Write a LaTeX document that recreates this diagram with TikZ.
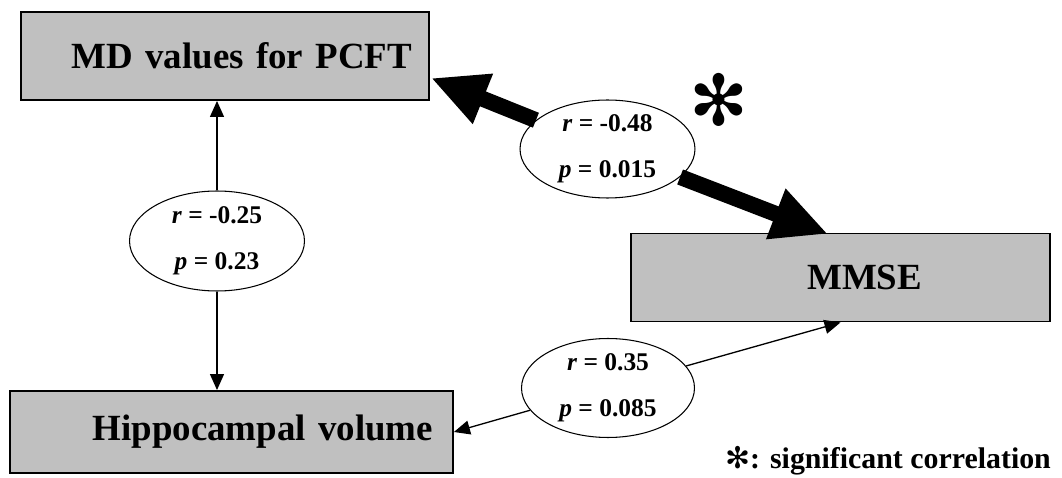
\documentclass[tikz,border=0pt]{standalone}
\usepackage{fontspec}
\setmainfont{Liberation Serif}
\newfontfamily\dingfont{DejaVu Sans}
\usetikzlibrary{positioning,shapes.geometric,arrows.meta}
\definecolor{boxgray}{HTML}{C0C0C0}
\tikzset{%
  var/.style={draw,fill=boxgray,line width=1.1pt,rectangle,align=right,
    font=\fontsize{21}{25}\selectfont\bfseries},
  corr/.style={draw,ellipse,line width=.6pt,fill=white,inner sep=0pt,
    minimum width=3.5cm,minimum height=2cm,align=center,
    font=\fontsize{14.5}{26}\selectfont\bfseries},
  weak/.style={line width=.75pt,-{Triangle[length=.32cm,width=.28cm]}},
  strong/.style={line width=.32cm,-{Triangle[length=1.12cm,width=1cm]}}
}
\newcommand{\rp}[2]{\textit{r} = #1\\\textit{p} = #2}

\begin{document}
\begin{tikzpicture}[x=.02cm,y=.02cm]
  \useasboundingbox (0,0) rectangle (1062,477);

  % the three measures
  \node [var,text width=7.48cm,inner xsep=.34cm,minimum height=1.76cm] (md) at (225,421) {MD values for PCFT};
  \node [var,text width=8.06cm,inner xsep=.40cm,minimum height=1.64cm] (hip) at (231.5,45) {Hippocampal volume};
  \node [var,text width=3.26cm,inner xsep=2.56cm,minimum height=1.76cm] (mmse) at (840.5,199.5) {MMSE};

  % correlations
  \node [corr] (e1) at (217,236) {\rp{-0.25}{0.23}};
  \node [corr,minimum height=1.96cm] (e2) at (607.5,328) {\rp{-0.48}{0.015}};
  \node [corr,minimum width=3.46cm,minimum height=1.98cm] (e3) at (608,89) {\rp{0.35}{0.085}};

  \coordinate (mdtip) at (431,399);
  \coordinate (mmsetip) at (828,243);

  \draw [weak] (e1) -- (e1 |- md.south);
  \draw [weak] (e1) -- (e1 |- hip.north);
  \draw [strong] (e2) -- (mdtip);
  \draw [strong] (e2) -- (mmsetip);
  \draw [weak] (e3) -- (hip.east);
  \draw [weak] (e3) -- (mmse.south);

  % significance mark and key
  \node [font=\dingfont\fontsize{40}{40}\selectfont,inner sep=0pt] (star) at (719,377) {✻};
  \node [anchor=base east,font=\fontsize{17}{20}\selectfont\bfseries] (key) at (1057,9)
    {{\dingfont\mdseries ✻}: significant correlation};
\end{tikzpicture}
\end{document}
